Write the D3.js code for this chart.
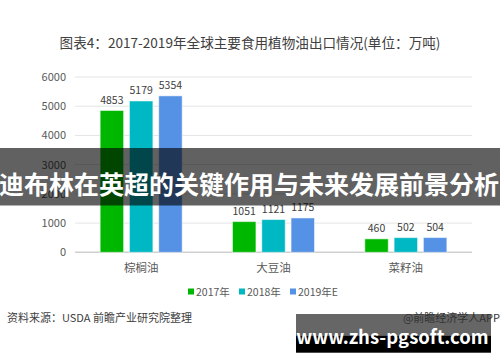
<!DOCTYPE html>
<html><head><meta charset="utf-8">
<script src="https://cdn.jsdelivr.net/npm/d3@7/dist/d3.min.js"></script>
<style>body{margin:0;background:#fff}svg{display:block}text{font-family:"Microsoft YaHei","Noto Sans CJK SC",sans-serif}</style>
</head><body><svg id="c" width="500" height="362"></svg>
<script>
const categories = ["棕榈油","大豆油","菜籽油"];
const seriesNames = ["2017年","2018年","2019年E"];
const values2017 = [4853,1051,460];
const values2018 = [5179,1121,502];
const values2019 = [5354,1175,504];
const yTicks = [0,1000,2000,3000,4000,5000,6000];
const colors = ["#00b700","#00b8c4","#5591e4"];
const title = "图表4：2017-2019年全球主要食用植物油出口情况(单位：万吨)";
const source = "资料来源：USDA 前瞻产业研究院整理";
const credit = "@前瞻经济学人APP";
const banner = "迪布林在英超的关键作用与未来发展前景分析";
const site = "www.zhs-pgsoft.com";

const series = [values2017, values2018, values2019];
const svg = d3.select("#c");
const x0 = d3.scaleBand().domain(categories).range([75,472]).paddingInner(0).paddingOuter(0);
const x1 = d3.scaleBand().domain(seriesNames).range([0,82]).paddingInner(0.2).paddingOuter(0);
const y = d3.scaleLinear().domain([0,6000]).range([252.3,77]);

svg.append("text").attr("x",250).attr("y",47.5).attr("text-anchor","middle")
  .attr("font-size",13.6).attr("fill","#404040").text(title);

// gridlines
svg.append("g").selectAll("line").data(yTicks).join("line")
  .attr("x1",75).attr("x2",472).attr("y1",d=>y(d)).attr("y2",d=>y(d))
  .attr("stroke",d=>d===0?"#d0d0d0":"#e4e4e4").attr("stroke-width",d=>d===0?1.5:1);
svg.append("g").selectAll("text").data(yTicks).join("text")
  .attr("x",66).attr("y",d=>y(d)+4).attr("text-anchor","end")
  .attr("font-size",11).attr("fill","#595959").text(d=>d);

// bars
series.forEach((vals,si)=>{
  const g = svg.append("g");
  g.selectAll("rect").data(vals).join("rect")
    .attr("x",(d,i)=>x0(categories[i])+(x0.bandwidth()-82)/2+x1(seriesNames[si]))
    .attr("y",d=>y(d)).attr("width",x1.bandwidth()).attr("height",d=>y(0)-y(d))
    .attr("fill",colors[si]).attr("stroke","rgba(255,255,255,0.5)").attr("stroke-width",1);
  g.selectAll("text").data(vals).join("text")
    .attr("x",(d,i)=>x0(categories[i])+(x0.bandwidth()-82)/2+x1(seriesNames[si])+x1.bandwidth()/2)
    .attr("y",d=>y(d)-7).attr("text-anchor","middle")
    .attr("font-size",10.5).attr("fill","#404040").text(d=>d);
});

// category labels
svg.append("g").selectAll("text").data(categories).join("text")
  .attr("x",d=>x0(d)+x0.bandwidth()/2).attr("y",271.5).attr("text-anchor","middle")
  .attr("font-size",11.5).attr("fill","#595959").text(d=>d);

// legend
const legX = [188,239,290];
const lg = svg.append("g");
seriesNames.forEach((s,i)=>{
  lg.append("rect").attr("x",legX[i]).attr("y",288.5).attr("width",6).attr("height",6).attr("fill",colors[i]);
  lg.append("text").attr("x",legX[i]+8).attr("y",295.5).attr("font-size",10.5).attr("fill","#595959").text(s);
});

// footer
svg.append("text").attr("x",7).attr("y",322).attr("font-size",11).attr("fill","#404040").text(source);

// middle banner
svg.append("rect").attr("x",0).attr("y",148).attr("width",500).attr("height",57.5).attr("fill","rgba(0,0,0,0.62)");
svg.append("text").attr("x",249).attr("y",194).attr("text-anchor","middle")
  .attr("font-size",25).attr("font-weight","bold").attr("fill","#fff").text(banner);

// bottom-right banner
svg.append("rect").attr("x",296).attr("y",314).attr("width",195).attr("height",21.5).attr("fill","#666");
svg.append("rect").attr("x",296).attr("y",335.5).attr("width",195).attr("height",17.2).attr("fill","#000");
svg.append("text").attr("x",500).attr("y",322).attr("text-anchor","end").attr("font-size",11).attr("fill","#333").text(credit);
svg.append("text").attr("x",392.5).attr("y",343.5).attr("text-anchor","middle")
  .attr("font-size",18.5).attr("font-weight","bold").attr("fill","#fff").attr("font-family","'DejaVu Sans',sans-serif").text(site);
</script></body></html>
